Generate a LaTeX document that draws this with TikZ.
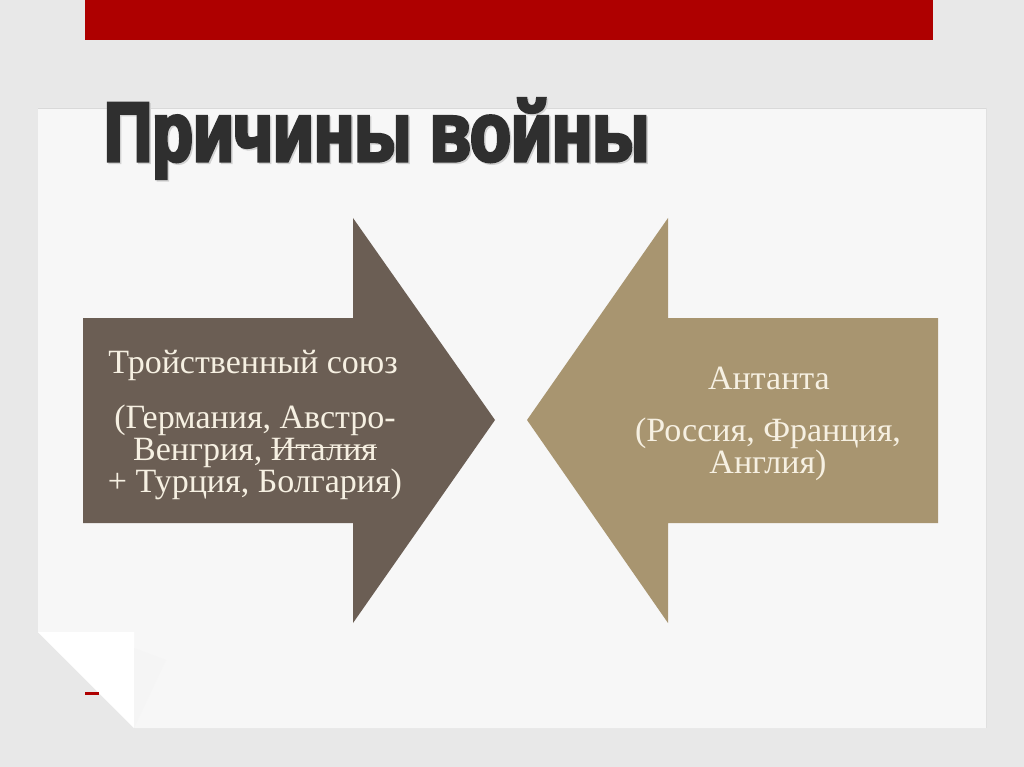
\documentclass[tikz,border=0pt]{standalone}
\usepackage{fontspec}
\setmainfont{Liberation Serif}
\newfontfamily\titlefont[FakeStretch=0.795,FakeBold=4]{Liberation Sans Bold}
\definecolor{slidegray}{HTML}{E8E8E8}
\definecolor{paper}{HTML}{F7F7F7}
\definecolor{barred}{HTML}{AE0000}
\definecolor{triplecol}{HTML}{6B5E54}
\definecolor{ententecol}{HTML}{A89570}
\definecolor{cream}{HTML}{F6F0E2}
\definecolor{titleink}{HTML}{2F2F2F}
\newcommand\crossout[1]{\setbox0\hbox{#1}\rlap{\rule[0.35em]{\wd0}{1.3pt}}\box0}

\begin{document}
\begin{tikzpicture}[x=1pt,y=-1pt]
  \tikzset{arrow text/.style={text=cream,align=center,inner sep=0pt,anchor=base,
      font=\fontsize{34}{32}\selectfont}}
  \useasboundingbox (0,0) rectangle (1024,767);
  \fill[slidegray] (0,0) rectangle (1024,767);
  \fill[barred] (85,0) rectangle (933,40);

  \fill[paper] (38,108) -- (986,108) -- (986,728) -- (135,728) -- (38,632) -- cycle;
  \draw[black!15] (38,108.5) -- (986,108.5);
  \draw[black!12] (986,108) -- (986,728);
  \fill[white] (38,632) -- (134,632) -- (134,728) -- cycle;
  \fill[black!4] (134,648) -- (166,660) -- (134,728) -- cycle;
  \draw[barred,line width=3pt] (85,693) -- (99,693);

  \node[anchor=base west,inner sep=0pt,text=black!18,font=\fontsize{84}{84}\titlefont] at (105.5,162.5) {Причины войны};
  \node[anchor=base west,inner sep=0pt,text=titleink,font=\fontsize{84}{84}\titlefont] (title) at (104,161) {Причины войны};

  \fill[triplecol] (83,318) -- (353,318) -- (353,218) -- (495,420) -- (353,623) -- (353,523) -- (83,523) -- cycle;
  \fill[ententecol] (938,318) -- (668,318) -- (668,218) -- (527,420) -- (668,623) -- (668,523) -- (938,523) -- cycle;

  \node[arrow text] (triple) at (253,373) {Тройственный союз};
  \node[arrow text] (triplelist) at (255,492) {(Германия, Австро-\\Венгрия, \crossout{Италия}\\+ Турция, Болгария)};
  \node[arrow text] (entente) at (769,389) {Антанта};
  \node[arrow text] (ententelist) at (768,473) {(Россия, Франция,\\Англия)};
\end{tikzpicture}
\end{document}
